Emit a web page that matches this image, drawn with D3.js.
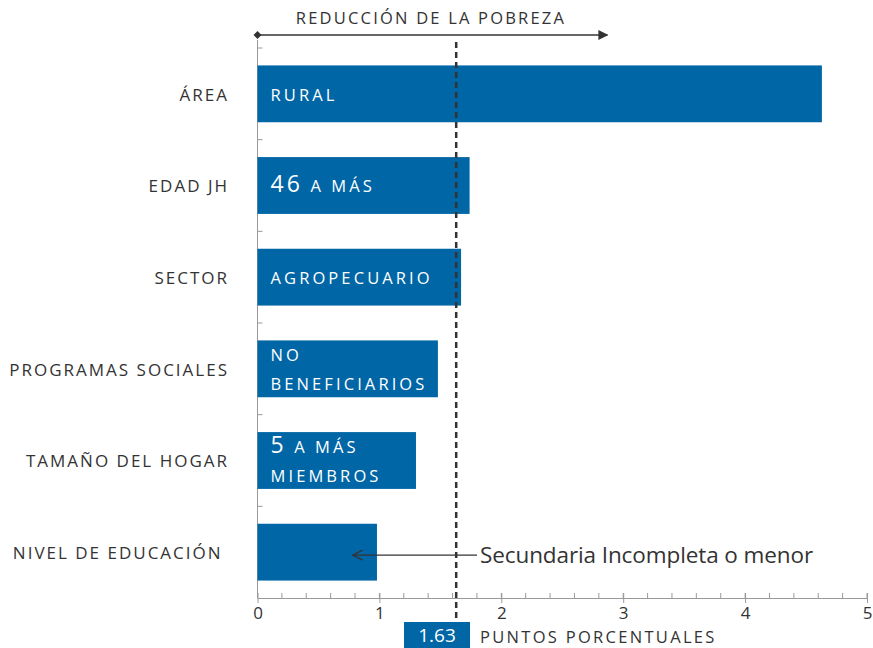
<!DOCTYPE html>
<html><head><meta charset="utf-8">
<script src="https://cdn.jsdelivr.net/npm/d3@7"></script>
<style>body{margin:0;background:#fff}svg{display:block}text{font-family:"Open Sans",sans-serif;white-space:pre}</style>
</head><body><svg id="c" width="873" height="648"></svg>
<script>
const categories = ["ÁREA","EDAD JH","SECTOR","PROGRAMAS SOCIALES","TAMAÑO DEL HOGAR","NIVEL DE EDUCACIÓN "];
const values = [4.63,1.74,1.67,1.48,1.30,0.98];
const barLabels = [["RURAL"],["46 A MÁS"],["AGROPECUARIO"],["NO","BENEFICIARIOS"],["5 A MÁS","MIEMBROS"],[]];
const threshold = 1.63;
const xTicks = [0,1,2,3,4,5];
const topLabel = "REDUCCIÓN DE LA POBREZA";
const annotation = "Secundaria Incompleta o menor";
const unitLabel = "PUNTOS PORCENTUALES";

const svg = d3.select("#c");
const blue = "#0066a6", ink = "#333", grey = "#999";
const x = d3.scaleLinear().domain([0,5]).range([257.5,867]);
const y = d3.scaleBand().domain(categories).range([48,598]).paddingInner(0.38).paddingOuter(0.19);

// minor ticks
const minor = d3.range(0,5.001,0.2);
svg.append("g").selectAll("line").data(minor).join("line")
  .attr("x1",d=>x(d)).attr("x2",d=>x(d)).attr("y1",593).attr("y2",598)
  .attr("stroke",grey).attr("stroke-width",1);
// x axis
const xa = svg.append("g").attr("transform","translate(0,598)")
  .call(d3.axisBottom(x).tickValues(xTicks).tickFormat(d3.format("d")).tickSize(5).tickSizeOuter(0));
xa.select(".domain").attr("stroke",grey);
xa.selectAll(".tick line").attr("stroke",grey).attr("y1",-5).attr("y2",5);
xa.selectAll(".tick text").attr("fill",ink).attr("font-size",17).attr("y",9).attr("font-family","Open Sans");

// y axis line and ticks
svg.append("line").attr("x1",x(0)).attr("x2",x(0)).attr("y1",40).attr("y2",598).attr("stroke",grey);
const step = y.step();
const yTicks = [];
categories.forEach(c=>{ yTicks.push(y(c)+y.bandwidth()/2); yTicks.push(y(c)+y.bandwidth()/2-step/2); });
svg.append("g").selectAll("line").data(yTicks).join("line")
  .attr("x1",x(0)).attr("x2",x(0)+5).attr("y1",d=>d).attr("y2",d=>d).attr("stroke",grey);

// bars
svg.append("g").selectAll("rect").data(categories).join("rect")
  .attr("x",x(0)).attr("y",d=>y(d)).attr("height",y.bandwidth())
  .attr("width",(d,i)=>x(values[i])-x(0)).attr("fill",blue);

// category labels
svg.append("g").selectAll("text").data(categories).join("text")
  .attr("x",229).attr("y",d=>y(d)+y.bandwidth()/2+1).attr("dy","0.35em")
  .attr("text-anchor","end").attr("fill",ink).attr("font-size",17)
  .attr("letter-spacing",2).text(d=>d);

// bar labels
categories.forEach((c,i)=>{
  const lines = barLabels[i];
  const cy = y(c)+y.bandwidth()/2;
  lines.forEach((t,j)=>{
    const tx = svg.append("text").attr("x",x(0)+13)
      .attr("y",cy + (j-(lines.length-1)/2)*29 + 1).attr("dy","0.35em")
      .attr("fill","#fff").attr("font-size",16.5).attr("letter-spacing",3.1);
    t.split(/(\d+)/).filter(s=>s.length).forEach(s=>{
      tx.append("tspan").attr("font-size",/\d/.test(s)?23:16.5).text(s);
    });
  });
});

// threshold dashed line
svg.append("line").attr("x1",x(threshold)).attr("x2",x(threshold)).attr("y1",42).attr("y2",622)
  .attr("stroke",ink).attr("stroke-width",2.5).attr("stroke-dasharray","6,4");

// top arrow
svg.append("defs").html(`<marker id="ah" viewBox="0 0 10 10" refX="9" refY="5" markerWidth="10" markerHeight="10" markerUnits="userSpaceOnUse" orient="auto"><path d="M0,0L10,5L0,10z" fill="${ink}"/></marker>
<marker id="oa" viewBox="0 0 12 12" refX="1" refY="6" markerWidth="12" markerHeight="12" markerUnits="userSpaceOnUse" orient="auto"><path d="M11,1L1,6L11,11" fill="none" stroke="${ink}" stroke-width="1.3"/></marker>`);
svg.append("line").attr("x1",x(0)).attr("x2",x(2.87)).attr("y1",35).attr("y2",35)
  .attr("stroke",ink).attr("stroke-width",1.3).attr("marker-end","url(#ah)");
svg.append("path").attr("d",`M${x(0)-4},35L${x(0)},31L${x(0)+4},35L${x(0)},39Z`).attr("fill",ink);
svg.append("text").attr("x",431).attr("y",24).attr("text-anchor","middle").attr("fill",ink)
  .attr("font-size",16.5).attr("letter-spacing",2.2).text(topLabel);

// annotation
const yn = y(categories[5])+y.bandwidth()/2+3;
svg.append("line").attr("x1",x(0.78)).attr("x2",477).attr("y1",yn).attr("y2",yn)
  .attr("stroke",ink).attr("stroke-width",1.3).attr("marker-start","url(#oa)");
svg.append("text").attr("x",480).attr("y",yn).attr("dy","0.33em").attr("fill",ink)
  .attr("font-size",22.5).attr("letter-spacing",-0.1).text(annotation);

// bottom value box
svg.append("rect").attr("x",404).attr("y",622).attr("width",66).attr("height",26).attr("fill",blue);
svg.append("text").attr("x",437).attr("y",642).attr("text-anchor","middle")
  .attr("fill","#fff").attr("font-size",19).text(d3.format(".2f")(threshold));
svg.append("text").attr("x",480).attr("y",643).attr("fill",ink)
  .attr("font-size",16.5).attr("letter-spacing",2.3).text(unitLabel);
</script></body></html>
